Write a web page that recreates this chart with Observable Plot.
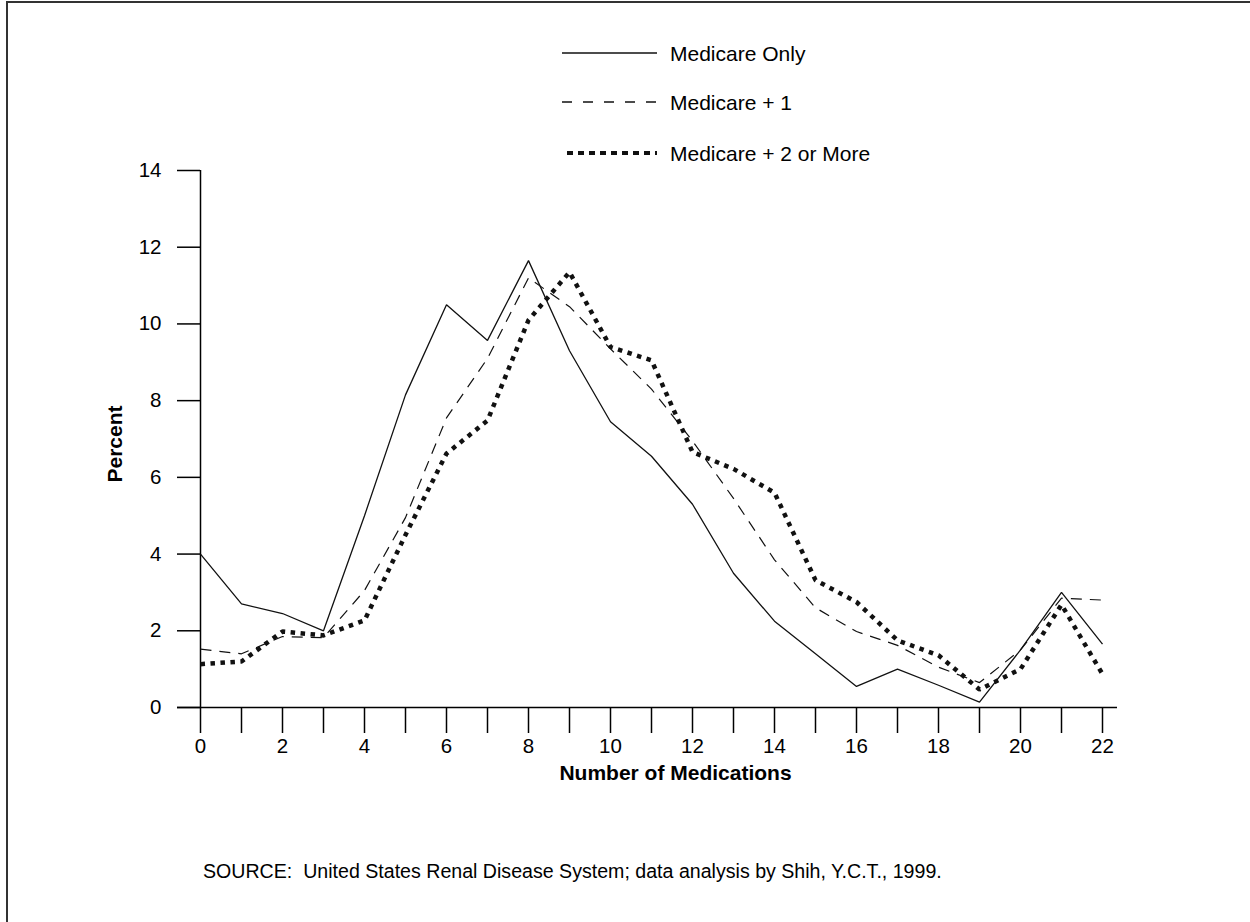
<!DOCTYPE html>
<html>
<head>
<meta charset="utf-8">
<script src="https://cdn.jsdelivr.net/npm/d3@7"></script>
<script src="https://cdn.jsdelivr.net/npm/@observablehq/plot@0.6"></script>
<style>
  html, body { margin: 0; padding: 0; background: #fff; overflow: hidden; }
  body { width: 1250px; height: 922px; position: relative; font-family: "Liberation Sans", Arial, sans-serif; color: #000; }
  #frame { position: absolute; left: 6px; top: 1px; width: 1244px; height: 921px; border-top: 2px solid #333; border-left: 2px solid #333; box-sizing: border-box; }
  #chart { position: absolute; left: 0; top: 0; }
  #legend { position: absolute; left: 562px; top: 0; }
  .row { position: absolute; left: 0; height: 30px; width: 400px; }
  .row svg { position: absolute; left: 0; top: 0; }
  .row span { position: absolute; left: 108px; top: 15px; transform: translateY(-50%); font-size: 21px; white-space: nowrap; line-height: 1; }
  #source { position: absolute; left: 203px; top: 862px; font-size: 19.6px; white-space: pre; line-height: 1; }
</style>
</head>
<body>
<div id="frame"></div>
<div id="chart"></div>
<div id="legend"></div>
<div id="source"></div>
<script>
// ---- Data ----
const medications = [0,1,2,3,4,5,6,7,8,9,10,11,12,13,14,15,16,17,18,19,20,21,22];
const medicareOnly  = [4.0, 2.7, 2.45, 2.0, 5.0, 8.15, 10.5, 9.57, 11.65, 9.3, 7.45, 6.55, 5.3, 3.5, 2.25, 1.4, 0.55, 1.0, 0.58, 0.14, 1.5, 3.0, 1.65];
const medicarePlus1 = [1.52, 1.4, 1.85, 1.82, 3.05, 4.95, 7.55, 9.1, 11.2, 10.45, 9.35, 8.3, 6.95, 5.45, 3.85, 2.6, 1.98, 1.62, 1.05, 0.65, 1.5, 2.85, 2.8];
const medicarePlus2 = [1.13, 1.2, 1.98, 1.88, 2.27, 4.5, 6.62, 7.48, 10.1, 11.35, 9.4, 9.05, 6.66, 6.22, 5.6, 3.32, 2.75, 1.75, 1.36, 0.47, 1.0, 2.68, 0.87];
const seriesNames = ["Medicare Only", "Medicare + 1", "Medicare + 2 or More"];
const xTickLabels = [0,2,4,6,8,10,12,14,16,18,20,22];
const yTicks = [0,2,4,6,8,10,12,14];
const yLabel = "Percent";
const xLabel = "Number of Medications";
const sourceText = "SOURCE:  United States Renal Disease System; data analysis by Shih, Y.C.T., 1999.";

// ---- Styles per series ----
const styles = [
  {strokeWidth: 1.3, strokeDasharray: null, legendDash: null},
  {strokeWidth: 1.2, strokeDasharray: "11,8", legendDash: "10,11"},
  {strokeWidth: 4.5, strokeDasharray: "4.5,5.5", legendDash: "6,5"}
];

const allSeries = [medicareOnly, medicarePlus1, medicarePlus2];
const table = allSeries.map(vals => medications.map((m, i) => ({m, v: vals[i]})));

const FONT = "'Liberation Sans', Arial, sans-serif";

const lineMarks = table.map((rows, k) => Plot.lineY(rows, {
  x: "m", y: "v",
  stroke: "#111",
  strokeWidth: styles[k].strokeWidth,
  strokeDasharray: styles[k].strokeDasharray,
  strokeLinecap: "butt",
  strokeLinejoin: "miter",
  curve: "linear"
}));

const plot = Plot.plot({
  width: 1250,
  height: 800,
  marginLeft: 200,
  marginRight: 148,
  marginTop: 170,
  marginBottom: 93,
  style: {fontFamily: FONT, fontSize: "20px", background: "transparent", color: "#000", overflow: "visible"},
  x: {domain: [0, 22]},
  y: {domain: [0, 14]},
  marks: [
    Plot.axisX({ticks: medications, tickSize: 26, tickPadding: 5, strokeWidth: 1.5,
      tickFormat: d => xTickLabels.includes(d) ? String(d) : "", label: null, fontSize: 20.5}),
    Plot.axisY({ticks: yTicks, tickSize: 23, tickPadding: 16, strokeWidth: 1.5,
      tickFormat: d => String(d), label: null, fontSize: 20.5}),
    Plot.ruleY([0], {stroke: "#000", strokeWidth: 1.5, insetLeft: -23, insetRight: -15}),
    Plot.ruleX([0], {stroke: "#000", strokeWidth: 1.5}),
    ...lineMarks,
    Plot.text([yLabel], {frameAnchor: "left", dx: -85, dy: 5, rotate: -90, textAnchor: "middle", lineAnchor: "middle", fontWeight: "bold", fontSize: 21, fill: "#000"}),
    Plot.text([xLabel], {frameAnchor: "bottom", dx: 24, dy: 66, textAnchor: "middle", lineAnchor: "middle", fontWeight: "bold", fontSize: 21, fill: "#000"})
  ]
});
// enforce tick label font size
d3.select(plot).selectAll("g[aria-label*='tick label']").attr("font-size", 20.5).style("font-size", "20.5px");
d3.select(plot).selectAll("g[aria-label*='tick label'] text").style("font-size", "20.5px");
document.getElementById("chart").appendChild(plot);

// ---- Legend ----
const legendTops = [38, 87, 138];
const legend = document.getElementById("legend");
seriesNames.forEach((name, k) => {
  const row = document.createElement("div");
  row.className = "row";
  row.style.top = legendTops[k] + "px";
  const ns = "http://www.w3.org/2000/svg";
  const svg = document.createElementNS(ns, "svg");
  svg.setAttribute("width", 100);
  svg.setAttribute("height", 30);
  const ln = document.createElementNS(ns, "line");
  ln.setAttribute("x1", k === 2 ? 5 : 0);
  ln.setAttribute("x2", 95);
  ln.setAttribute("y1", 15);
  ln.setAttribute("y2", 15);
  ln.setAttribute("stroke", "#111");
  ln.setAttribute("stroke-width", k === 2 ? 4 : 1.3);
  if (styles[k].legendDash) ln.setAttribute("stroke-dasharray", styles[k].legendDash);
  svg.appendChild(ln);
  row.appendChild(svg);
  const span = document.createElement("span");
  span.textContent = name;
  row.appendChild(span);
  legend.appendChild(row);
});

document.getElementById("source").textContent = sourceText;
</script>
</body>
</html>
